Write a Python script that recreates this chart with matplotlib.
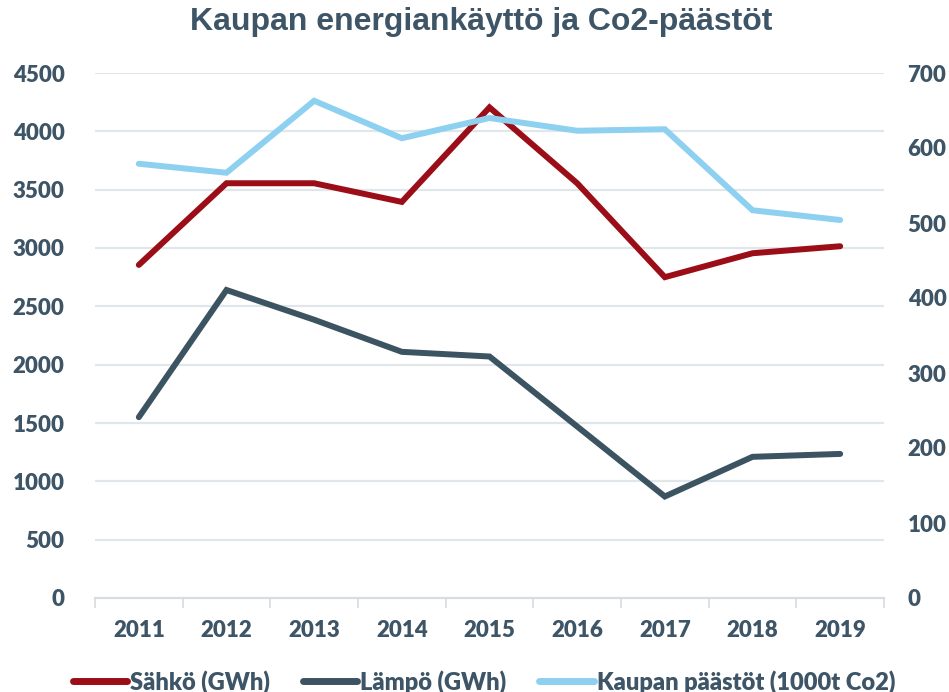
import matplotlib
matplotlib.use('Agg')
import matplotlib.pyplot as plt
import numpy as np

# data
years = ['2011', '2012', '2013', '2014', '2015', '2016', '2017', '2018', '2019']
sahko = [2855, 3555, 3555, 3395, 4205, 3555, 2750, 2955, 3015]
lampo = [1550, 2640, 2385, 2110, 2070, 1470, 870, 1210, 1235]
paastot = [579, 567, 663, 613, 640, 623, 625, 517, 504]

red = '#9b0e17'
dark = '#3c5361'
light = '#8dd0f0'
grid = '#e1e6eb'
txt = '#3d5566'

fig = plt.figure(figsize=(9.49, 6.92), dpi=100)
ax = fig.add_axes([95/949, 1-598/692, (884-95)/949, (598-73)/692])
ax2 = ax.twinx()

x = np.arange(len(years))

ax.plot(x, sahko, color=red, lw=4.3, solid_capstyle='round', solid_joinstyle='miter', label='Sähkö (GWh)', zorder=3)
ax.plot(x, lampo, color=dark, lw=4.3, solid_capstyle='round', solid_joinstyle='miter', label='Lämpö (GWh)', zorder=3)
ax2.plot(x, paastot, color=light, lw=4.3, solid_capstyle='round', solid_joinstyle='miter', label='Kaupan päästöt (1000t Co2)', zorder=3)

ax.set_xlim(-0.5, len(years) - 0.5)
ax.set_ylim(0, 4500)
ax2.set_ylim(0, 700)
ax.set_yticks(np.arange(0, 4501, 500))
ax2.set_yticks(np.arange(0, 701, 100))

# grid lines
for v in np.arange(500, 4501, 500):
    ax.axhline(v, color=grid, lw=1.6, zorder=1)

for a in (ax, ax2):
    for s in a.spines.values():
        s.set_visible(False)
ax.spines['bottom'].set_visible(True)
ax.spines['bottom'].set_color('#d6dce2')
ax.spines['bottom'].set_linewidth(1.6)

ax.set_xticks(x)
ax.set_xticklabels(years)
ax.set_xticks(np.arange(-0.5, len(years), 1), minor=True)
ax.tick_params(axis='x', which='major', length=0, pad=16, labelsize=16, labelcolor=txt)
ax.tick_params(axis='x', which='minor', length=7, width=1.2, color='#d6dce2', direction='out')
ax.tick_params(axis='y', length=0, pad=22, labelsize=16, labelcolor=txt)
ax2.tick_params(axis='y', length=0, pad=17, labelsize=16, labelcolor=txt)

for lab in ax.get_xticklabels() + ax.get_yticklabels() + ax2.get_yticklabels():
    lab.set_fontweight('heavy')
    lab.set_family('Lato')

fig.text(0.507, 1 - 22/692, 'Kaupan energiankäyttö ja Co2-päästöt', ha='center', va='center',
         fontsize=23, fontweight='bold', color=txt, family='Liberation Sans')

h1, l1 = ax.get_legend_handles_labels()
h2, l2 = ax2.get_legend_handles_labels()
leg = fig.legend(h1 + h2, l1 + l2, loc='center', bbox_to_anchor=(0.51, 1 - 682/692), ncol=3,
                 frameon=False, handlelength=2.3, handletextpad=0.12, columnspacing=1.4,
                 prop={'family': 'Lato', 'weight': 'heavy', 'size': 17})
for t in leg.get_texts():
    t.set_color(txt)
for lh in leg.get_lines():
    lh.set_linewidth(5)

fig.savefig('out.png', dpi=100)
